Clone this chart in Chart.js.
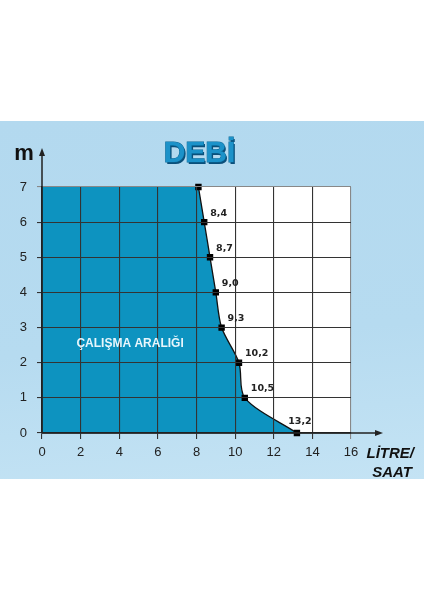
<!DOCTYPE html>
<html>
<head>
<meta charset="utf-8">
<script src="https://cdn.jsdelivr.net/npm/chart.js@4"></script>
<style>
  html,body{margin:0;padding:0;background:#fff;}
  #wrap{position:relative;width:424px;height:600px;}
  #band{position:absolute;left:0;top:121px;width:424px;height:358px;
        background:linear-gradient(175deg,#b3d9ef 0%,#b6dbf0 60%,#c4e3f4 100%);}
  canvas{position:absolute;left:0;top:0;}
</style>
</head>
<body>
<div id="wrap"><div id="band"></div><canvas id="c" width="424" height="600"></canvas></div>
<script>
// Data
const flowValues = [8.1, 8.4, 8.7, 9.0, 9.3, 10.2, 10.5, 13.2];
const heightValues = [7, 6, 5, 4, 3, 2, 1, 0];
const pointLabels = ['', '8,4', '8,7', '9,0', '9,3', '10,2', '10,5', '13,2'];
const xTicks = [0, 2, 4, 6, 8, 10, 12, 14, 16];
const yTicks = [0, 1, 2, 3, 4, 5, 6, 7];
const titleText = 'DEBİ';
const yAxisTitle = 'm';
const xAxisTitle = ['LİTRE/', 'SAAT'];
const areaLabel = 'ÇALIŞMA ARALIĞI';

const FILL = '#0d93c0';

const curve = flowValues.map((x, i) => ({x, y: heightValues[i]}));
// working-range block left of the curve (shares the curve's first two points)
const rect = [{x: xTicks[0], y: heightValues[0]}, curve[0], curve[1]];

const decorPlugin = {
  id: 'decor',
  beforeDraw(chart) {
    const {ctx, chartArea: a} = chart;
    ctx.save();
    ctx.fillStyle = '#ffffff';
    ctx.fillRect(a.left, a.top, a.right - a.left, a.bottom - a.top);
    ctx.restore();
  },
  afterDraw(chart) {
    const {ctx, chartArea: a, scales} = chart;
    ctx.save();
    // axis arrows
    ctx.strokeStyle = '#222';
    ctx.fillStyle = '#222';
    ctx.lineWidth = 1.5;
    ctx.beginPath();
    ctx.moveTo(a.left, a.bottom);
    ctx.lineTo(a.left, a.top - 35);
    ctx.moveTo(a.left, a.bottom);
    ctx.lineTo(a.right + 28, a.bottom);
    ctx.stroke();
    ctx.beginPath();
    ctx.moveTo(a.left, a.top - 39);
    ctx.lineTo(a.left - 3, a.top - 31);
    ctx.lineTo(a.left + 3, a.top - 31);
    ctx.closePath(); ctx.fill();
    ctx.beginPath();
    ctx.moveTo(a.right + 32, a.bottom);
    ctx.lineTo(a.right + 24, a.bottom - 3);
    ctx.lineTo(a.right + 24, a.bottom + 3);
    ctx.closePath(); ctx.fill();

    // m label
    ctx.font = 'bold 22px "Liberation Sans", Arial, sans-serif';
    ctx.textAlign = 'center';
    ctx.textBaseline = 'alphabetic';
    ctx.fillStyle = '#111';
    ctx.fillText(yAxisTitle, 24, a.top - 27);

    // x axis title
    ctx.font = 'italic bold 15px "Liberation Sans", Arial, sans-serif';
    ctx.textAlign = 'right';
    ctx.fillText(xAxisTitle[0], 414, a.bottom + 25);
    ctx.fillText(xAxisTitle[1], 412, a.bottom + 44);

    // title
    const cx = (a.left + a.right) / 2 + 3;
    ctx.font = 'bold 30px "Liberation Sans", Arial, sans-serif';
    ctx.textAlign = 'center';
    ctx.fillStyle = '#0b4f7a';
    ctx.fillText(titleText, cx + 1.5, a.top - 23.5);
    ctx.lineWidth = 1;
    ctx.strokeStyle = '#0a6796';
    ctx.strokeText(titleText, cx, a.top - 25);
    ctx.fillStyle = '#1c92c9';
    ctx.fillText(titleText, cx, a.top - 25);

    // area label
    const ax = scales.x.getPixelForValue(4.56);
    const ay = scales.y.getPixelForValue(2.53);
    ctx.font = 'bold 12px "Liberation Sans", Arial, sans-serif';
    ctx.fillStyle = '#e8f6fc';
    ctx.textBaseline = 'middle';
    ctx.fillText(areaLabel, ax, ay);

    // point labels
    const meta = chart.getDatasetMeta(0);
    ctx.font = 'bold 9.5px "DejaVu Sans", sans-serif';
    ctx.fillStyle = '#222';
    meta.data.forEach((p, i) => {
      if (!pointLabels[i]) return;
      if (i === meta.data.length - 1) {
        ctx.textAlign = 'center';
        ctx.fillText(pointLabels[i], p.x + 3, p.y - 11);
      } else {
        ctx.textAlign = 'left';
        ctx.fillText(pointLabels[i], p.x + 6, p.y - 9);
      }
    });
    ctx.restore();
  }
};

new Chart(document.getElementById('c'), {
  type: 'scatter',
  data: {
    datasets: [
      {
        data: curve,
        showLine: true,
        tension: 0.3,
        borderColor: '#111',
        borderWidth: 1.3,
        backgroundColor: FILL,
        fill: 'origin',
        pointStyle: 'rect',
        pointRadius: 3.6,
        pointBackgroundColor: '#000',
        pointBorderColor: '#000',
        clip: false,
        order: 1
      },
      {
        data: rect,
        showLine: true,
        tension: 0,
        borderWidth: 0,
        borderColor: FILL,
        backgroundColor: FILL,
        fill: 'origin',
        pointRadius: 0,
        order: 2
      }
    ]
  },
  options: {
    responsive: false,
    animation: false,
    devicePixelRatio: 1,
    layout: {padding: {left: 0, top: 187, right: 73, bottom: 0}},
    plugins: {legend: {display: false}, tooltip: {enabled: false}},
    scales: {
      x: {
        type: 'linear',
        min: xTicks[0], max: xTicks[xTicks.length - 1],
        afterBuildTicks: s => { s.ticks = xTicks.map(v => ({value: v})); },
        afterFit: s => { s.height = 167; },
        grid: {color: (c) => c.index === xTicks.length - 1 ? '#888' : '#333', lineWidth: 1.1, tickLength: 6, z: 1},
        border: {color: '#222', width: 1.5, z: 2},
        ticks: {color: '#222', padding: 6, font: {size: 13, family: '"Liberation Sans", Arial, sans-serif'}, maxRotation: 0}
      },
      y: {
        type: 'linear',
        min: yTicks[0], max: yTicks[yTicks.length - 1],
        afterBuildTicks: s => { s.ticks = yTicks.map(v => ({value: v})); },
        afterFit: s => { s.width = 42; },
        grid: {color: (c) => c.index === yTicks.length - 1 ? '#888' : '#333', lineWidth: 1.1, tickLength: 5, z: 1},
        border: {color: '#222', width: 1.5, z: 2},
        ticks: {color: '#222', padding: 10, font: {size: 13, family: '"Liberation Sans", Arial, sans-serif'}}
      }
    }
  },
  plugins: [decorPlugin]
});
</script>
</body>
</html>
